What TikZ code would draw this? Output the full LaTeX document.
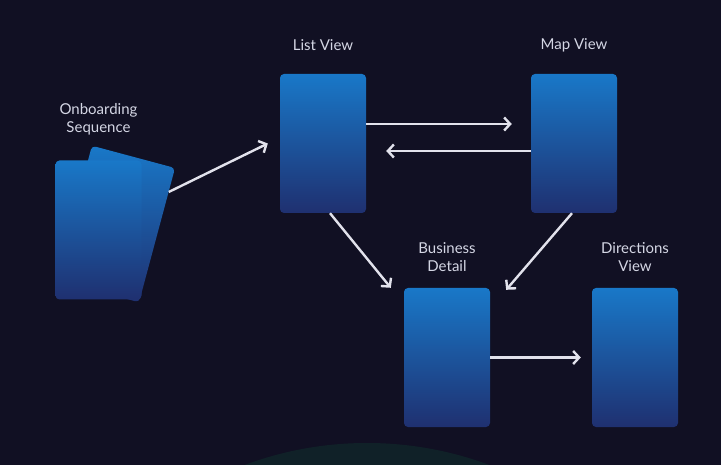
\documentclass[tikz,border=0pt]{standalone}
\usepackage{fontspec}
\setmainfont{Lato}
\usetikzlibrary{positioning, arrows.meta}
\definecolor{bgnavy}{RGB}{17,16,35}
\definecolor{glowteal}{RGB}{16,33,40}
\definecolor{cardtop}{RGB}{25,120,200}
\definecolor{cardmid}{RGB}{28,88,165}
\definecolor{cardbot}{RGB}{31,48,112}
\definecolor{captext}{RGB}{212,214,228}
\definecolor{arrowgray}{RGB}{226,226,236}

\begin{document}
\begin{tikzpicture}[x=1pt, y=1pt, node distance=98pt, on grid,
    screen/.style={rectangle, rounded corners=4pt, inner sep=0pt,
      minimum width=86pt, minimum height=139pt,
      top color=cardtop, middle color=cardmid, bottom color=cardbot},
    caption/.style={text=captext, font=\fontsize{15}{18}\selectfont, align=center},
    flow/.style={draw=arrowgray, line width=2.4pt,
      -{Straight Barb[length=6pt, width=13pt]}}]
  \fill[bgnavy] (0,0) rectangle (721,-465);
  \useasboundingbox (0,0) rectangle (721,-465);
  \begin{scope}
    \clip (0,0) rectangle (721,-465);
    \fill[glowteal] (367,-793) circle (350);
  \end{scope}

  % screens
  \node[screen] (list) at (323,-143.5) {};
  \node[screen, right=251pt of list] (map) {};
  \node[screen, below right=214pt and 124pt of list] (business) {};
  \node[screen, right=188pt of business] (directions) {};
  \node[screen, rotate=-15] (onbBack) at (115.5,-224) {};
  \node[screen, below left=86.5pt and 224.5pt of list] (onbFront) {};

  % captions
  \node[caption, above=of list] (listLbl) {List View};
  \node[caption, above=of map] (mapLbl) {Map View};
  \node[caption, above=100pt of business] (businessLbl) {Business\\Detail};
  \node[caption, above=100pt of directions] (directionsLbl) {Directions\\View};
  \node[caption, above=111pt of onbFront] (onbLbl) {Onboarding\\Sequence};

  \draw[flow] (onbBack.46) -- ([xshift=-12pt]list.west);
  \draw[flow] ([yshift=19.5pt]list.east) -- ([xshift=-19pt, yshift=19.5pt]map.west);
  \draw[flow] ([yshift=-7.5pt]map.west) -- ([xshift=20pt, yshift=-7.5pt]list.east);
  \draw[flow] ([xshift=7pt]list.south) -- ([xshift=-13pt]business.north west);
  \draw[flow] ([xshift=-2pt]map.south) -- ([xshift=16pt, yshift=-2pt]business.north east);
  \draw[flow] (business.east) -- ([xshift=-11pt]directions.west);
\end{tikzpicture}
\end{document}
